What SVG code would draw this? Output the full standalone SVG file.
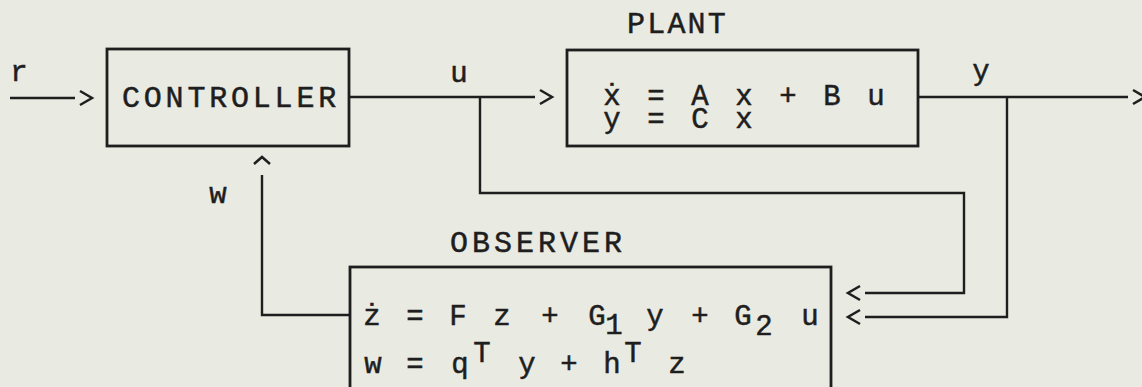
<svg xmlns="http://www.w3.org/2000/svg" width="1142" height="387" viewBox="0 0 1142 387">
<style>
.bg{fill:#e9eae2}
.box{fill:none;stroke:#1e1e1e;stroke-width:2.8}
.ln{fill:none;stroke:#1e1e1e;stroke-width:2.4}
.t{font-family:"Liberation Mono","DejaVu Sans Mono",monospace;fill:#1e1e1e;stroke:#1e1e1e;stroke-width:0.5}
.lab{font-size:30px;letter-spacing:3.8px}
.eq{font-size:29px;text-anchor:middle}
</style>
<defs>
<marker id="chev" markerUnits="userSpaceOnUse" markerWidth="40" markerHeight="40" viewBox="-20 -20 40 40" refX="0" refY="0" orient="auto" overflow="visible">
<path d="M5,-7 L17,0 L5,7" fill="none" stroke="#1e1e1e" stroke-width="2.5"/>
</marker>
<marker id="hat" markerUnits="userSpaceOnUse" markerWidth="40" markerHeight="40" viewBox="-20 -20 40 40" refX="0" refY="0" orient="auto" overflow="visible">
<path d="M11,-8 L18,0 L11,8" fill="none" stroke="#1e1e1e" stroke-width="2.5"/>
</marker>
</defs>
<rect class="bg" x="0" y="0" width="1142" height="387"/>

<g id="connectors">
<path class="ln" d="M10,98 H75" marker-end="url(#chev)"/>
<path class="ln" d="M349,97 H535" marker-end="url(#chev)"/>
<path class="ln" d="M918,97 H1128" marker-end="url(#chev)"/>
<path class="ln" d="M480,97 V193 H964 V293 H865" marker-end="url(#chev)"/>
<path class="ln" d="M1007,97 V317 H865" marker-end="url(#chev)"/>
<path class="ln" d="M350,315 H262 V175" marker-end="url(#hat)"/>
<text class="t eq" x="19" y="81">r</text>
<text class="t eq" x="459" y="82">u</text>
<text class="t eq" x="981" y="80">y</text>
<text class="t eq" x="218" y="203">w</text>
</g>

<g id="controller">
<rect class="box" x="107" y="49" width="242" height="97"/>
<text class="t lab" x="122" y="107">CONTROLLER</text>
</g>

<g id="plant">
<text class="t lab" x="627" y="33" style="letter-spacing:2.2px">PLANT</text>
<rect class="box" x="567" y="50" width="351" height="96"/>
<text class="t eq" y="105"><tspan x="612">ẋ</tspan><tspan x="656">=</tspan><tspan x="700">A</tspan><tspan x="744">x</tspan><tspan x="788">+</tspan><tspan x="832">B</tspan><tspan x="876">u</tspan></text>
<text class="t eq" y="128"><tspan x="612">y</tspan><tspan x="656">=</tspan><tspan x="700">C</tspan><tspan x="744">x</tspan></text>
</g>

<g id="observer">
<text class="t lab" x="450" y="252" style="letter-spacing:4px">OBSERVER</text>
<rect class="box" x="350" y="267" width="481" height="140"/>
<text class="t eq" y="325"><tspan x="372">ż</tspan><tspan x="415">=</tspan><tspan x="458">F</tspan><tspan x="502">z</tspan><tspan x="550">+</tspan><tspan x="597">G</tspan><tspan x="614" y="334">1</tspan><tspan x="655" y="325">y</tspan><tspan x="700">+</tspan><tspan x="743">G</tspan><tspan x="764" y="335">2</tspan><tspan x="810" y="325">u</tspan></text>
<text class="t eq" y="373"><tspan x="373">w</tspan><tspan x="415">=</tspan><tspan x="460">q</tspan><tspan x="482" y="362">T</tspan><tspan x="527" y="373">y</tspan><tspan x="569">+</tspan><tspan x="612">h</tspan><tspan x="633" y="362">T</tspan><tspan x="677" y="373">z</tspan></text>
</g>
</svg>
